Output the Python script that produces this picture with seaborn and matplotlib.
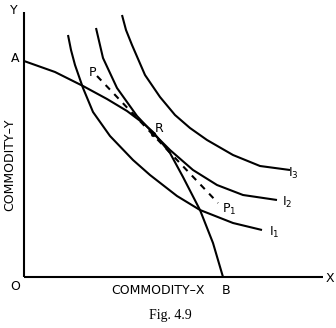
import matplotlib
matplotlib.use("Agg")
import matplotlib.pyplot as plt
import seaborn as sns
import pandas as pd

sns.set_style("white")
plt.rcParams['font.family'] = ['DejaVu Sans']
plt.rcParams['lines.solid_joinstyle'] = 'round'
plt.rcParams['lines.solid_capstyle'] = 'butt'

# Production possibility curve A-B
ppc_x = [0, 31, 59, 83, 103, 119, 129, 146, 159, 176, 189, 199]
ppc_y = [216, 205, 191, 178, 166, 154, 145, 124, 100, 67, 34, 0]

# Indifference curves
i1_x = [44, 47, 51, 59, 69, 86, 109, 126, 153, 176, 209, 238]
i1_y = [242, 227, 212, 189, 165, 141, 117, 102, 81, 67, 54, 47]
i2_x = [72, 79, 93, 113, 129, 146, 169, 193, 219, 253]
i2_y = [249, 219, 189, 161, 144, 127, 107, 92, 82, 77]
i3_x = [98, 102, 108, 121, 136, 151, 166, 183, 209, 236, 266]
i3_y = [262, 247, 232, 202, 180, 162, 149, 137, 122, 111, 107]

# Price line P-P1 and tangency point R
pp_x = [73, 194]
pp_y = [201, 74]
r_x = [129]
r_y = [143]

# Axes extents
xaxis_x = [0, 299]
xaxis_y = [0, 0]
yaxis_x = [0, 0]
yaxis_y = [0, 265]

fig = plt.figure(figsize=(3.36, 3.28), dpi=100)
ax = fig.add_axes([0, 0, 1, 1])
ax.set_xlim(-24, 312)
ax.set_ylim(-51, 277)
ax.axis("off")

lw = 1.5
def draw(xs, ys, **kw):
    df = pd.DataFrame({"x": xs, "y": ys})
    sns.lineplot(data=df, x="x", y="y", sort=False, estimator=None,
                 ax=ax, color="black", **kw)

draw(xaxis_x, xaxis_y, linewidth=lw)
draw(yaxis_x, yaxis_y, linewidth=lw)
draw(ppc_x, ppc_y, linewidth=lw)
draw(i1_x, i1_y, linewidth=lw)
draw(i2_x, i2_y, linewidth=lw)
draw(i3_x, i3_y, linewidth=lw)
draw(pp_x, pp_y, linewidth=1.5, linestyle=(0, (3, 3)))
sns.scatterplot(x=r_x, y=r_y, ax=ax, color="black", s=12, edgecolor="black")
ax.set_xlabel("")
ax.set_ylabel("")

fs = 9
tk = dict(fontsize=fs, ha="center", va="center", color="black")
ax.text(-10, 267, "Y", **tk)
ax.text(-9, 218, "A", **tk)
ax.text(-9, -10, "O", **tk)
ax.text(306, -1, "X", **tk)
ax.text(202, -14, "B", **tk)
ax.text(134, -14, "COMMODITY–X", **tk)
ax.text(-14, 112, "COMMODITY–Y", rotation=90, **tk)
ax.text(69, 204, "P", **tk)
ax.text(135, 149, "R", **tk)
ax.text(205, 68, "P$_1$", **tk)
ax.text(250, 45, "I$_1$", **tk)
ax.text(263, 75, "I$_2$", **tk)
ax.text(269, 104, "I$_3$", **tk)
ax.text(146, -39, "Fig. 4.9", fontsize=10, ha="center", va="center",
        family="Liberation Serif", color="black")

fig.savefig("out.png", dpi=100)
